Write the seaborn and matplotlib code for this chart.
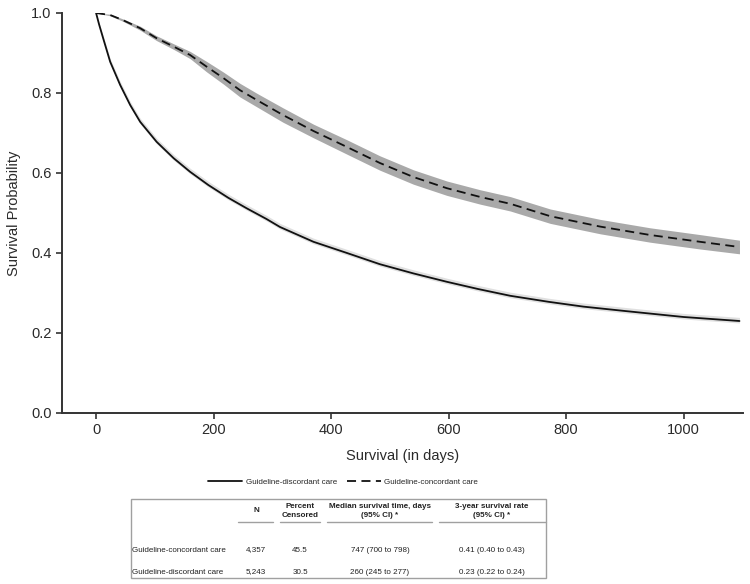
import matplotlib
matplotlib.use("Agg")
import matplotlib.pyplot as plt
import seaborn as sns
from matplotlib.patches import Rectangle
from matplotlib.lines import Line2D

# Kaplan-Meier curves
days_disc = [0, 5, 12, 24, 41, 58, 75, 103, 132, 160, 191, 225, 256, 290, 313,
             370, 427, 483, 540, 597, 650, 705, 770, 829, 900, 1000, 1095]
surv_disc = [1.0, 0.972, 0.937, 0.878, 0.82, 0.77, 0.728, 0.678, 0.637, 0.603,
             0.57, 0.538, 0.512, 0.485, 0.465, 0.428, 0.40, 0.372, 0.349, 0.328,
             0.31, 0.293, 0.278, 0.266, 0.255, 0.24, 0.23]
lo_disc = [1.0, 0.968, 0.932, 0.873, 0.815, 0.765, 0.723, 0.673, 0.632, 0.598,
           0.565, 0.533, 0.507, 0.48, 0.46, 0.423, 0.395, 0.367, 0.344, 0.323,
           0.305, 0.288, 0.273, 0.261, 0.25, 0.235, 0.225]
hi_disc = [1.0, 0.976, 0.944, 0.886, 0.829, 0.779, 0.737, 0.687, 0.646, 0.612,
           0.579, 0.547, 0.521, 0.494, 0.474, 0.437, 0.409, 0.381, 0.358, 0.337,
           0.319, 0.302, 0.287, 0.275, 0.264, 0.249, 0.239]

days_conc = [0, 24, 46, 75, 103, 132, 160, 188, 217, 245, 274, 318, 370, 427,
             483, 540, 597, 654, 705, 773, 858, 943, 1028, 1095]
surv_conc = [1.0, 0.995, 0.982, 0.962, 0.937, 0.916, 0.895, 0.866, 0.837, 0.807,
             0.782, 0.745, 0.705, 0.665, 0.625, 0.59, 0.562, 0.54, 0.523, 0.492,
             0.466, 0.445, 0.428, 0.415]
lo_conc = [1.0, 0.993, 0.979, 0.957, 0.931, 0.909, 0.886, 0.853, 0.822, 0.79,
           0.765, 0.727, 0.688, 0.647, 0.607, 0.572, 0.544, 0.522, 0.505, 0.474,
           0.448, 0.427, 0.41, 0.398]
hi_conc = [1.0, 0.997, 0.985, 0.967, 0.943, 0.923, 0.904, 0.879, 0.852, 0.824,
           0.799, 0.763, 0.722, 0.683, 0.643, 0.608, 0.58, 0.558, 0.541, 0.51,
           0.484, 0.463, 0.446, 0.432]

# summary table
row_names = ["Guideline-concordant care", "Guideline-discordant care"]
col_n = ["4,357", "5,243"]
col_cens = ["45.5", "30.5"]
col_median = ["747 (700 to 798)", "260 (245 to 277)"]
col_3yr = ["0.41 (0.40 to 0.43)", "0.23 (0.22 to 0.24)"]
headers = ["N", "Percent\nCensored", "Median survival time, days\n(95% CI) *",
           "3-year survival rate\n(95% CI) *"]

sns.set_style("ticks")
plt.rcParams["font.family"] = ["Liberation Sans", "DejaVu Sans"]

W, H = 750, 584
fig = plt.figure(figsize=(7.5, 5.84), dpi=100)
ax = fig.add_axes([62 / W, 1 - 413 / H, 681 / W, 400 / H])


def fx(x):
    return x / W


def fy(y):
    return 1 - y / H


ax.fill_between(days_conc, lo_conc, hi_conc, color="#a9a9a9", lw=0)
ax.fill_between(days_disc, lo_disc, hi_disc, color="#e0e0e0", lw=0)
sns.lineplot(x=days_disc, y=surv_disc, ax=ax, color="#111111", lw=1.3,
             label="Guideline-discordant care", sort=False)
sns.lineplot(x=days_conc, y=surv_conc, ax=ax, color="#111111", lw=1.3,
             label="Guideline-concordant care", sort=False)
ax.lines[1].set_dashes((5, 3))

ax.set_xlim(-58, 1101)
ax.set_ylim(0, 1.0)
ax.set_xticks([0, 200, 400, 600, 800, 1000])
ax.set_yticks([0.0, 0.2, 0.4, 0.6, 0.8, 1.0])
ax.set_yticklabels(["0.0", "0.2", "0.4", "0.6", "0.8", "1.0"])
sns.despine(ax=ax)
for s in ["left", "bottom"]:
    ax.spines[s].set_color("#333333")
    ax.spines[s].set_linewidth(1.4)
ax.tick_params(colors="#333333", labelsize=10.5, length=4, width=1.2,
               labelcolor="#2a2a2a")
ax.set_xlabel("Survival (in days)", fontsize=10.5, color="#2a2a2a", labelpad=8)
ax.set_ylabel("Survival Probability", fontsize=10.5, color="#2a2a2a", labelpad=7)

leg = ax.legend(loc="center", bbox_to_anchor=(fx(343), fy(482)),
                bbox_transform=fig.transFigure, ncol=2, frameon=False,
                fontsize=5.8, handlelength=4.3, columnspacing=1.2,
                handletextpad=0.4)

# table box
fig.patches.append(Rectangle((fx(131), fy(578)), fx(546) - fx(131),
                             fy(499) - fy(578), transform=fig.transFigure,
                             fill=False, edgecolor="#a0a0a0", lw=1))
col_x = [256, 300, 380, 492]
under = [(238, 273), (280, 320), (327, 432), (439, 546)]
for h, cx, (u0, u1) in zip(headers, col_x, under):
    fig.text(fx(cx), fy(511), h, ha="center", va="center", fontsize=5.8,
             fontweight="bold", color="#222222", linespacing=1.3)
    fig.lines.append(Line2D([fx(u0), fx(u1)], [fy(522), fy(522)],
                            transform=fig.transFigure, color="#a0a0a0", lw=1))

row_y = [550, 572]
for i, ry in enumerate(row_y):
    fig.text(fx(132), fy(ry), row_names[i], ha="left", va="center",
             fontsize=5.8, color="#222222")
    for val, cx in zip([col_n[i], col_cens[i], col_median[i], col_3yr[i]], col_x):
        fig.text(fx(cx), fy(ry), val, ha="center", va="center", fontsize=5.8,
                 color="#222222")

fig.savefig("out.png", dpi=100)
